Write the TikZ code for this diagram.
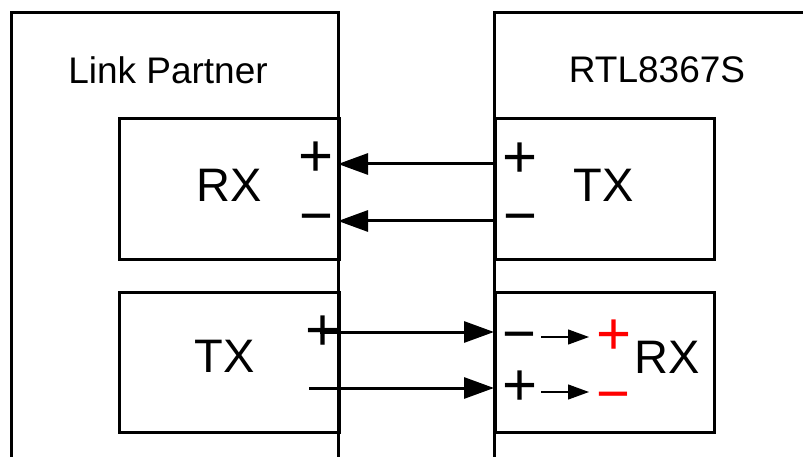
\documentclass[tikz,border=0pt]{standalone}
\usepackage{fontspec}
\setmainfont{Liberation Sans}
\usetikzlibrary{arrows.meta}
\begin{document}
\begin{tikzpicture}[x=1pt,y=-1pt,
  frame/.style={line width=3pt},
  box/.style={draw,line width=3pt,inner sep=0pt,anchor=north west},
  title/.style={font=\fontsize{37}{40}\selectfont,inner sep=0pt},
  big/.style={font=\fontsize{47}{50}\selectfont,inner sep=0pt},
  psg/.style={font=\fontsize{60}{62}\selectfont,inner sep=0pt,anchor=base},
  msg/.style={font=\fontsize{58}{60}\selectfont,inner sep=0pt,anchor=base},
  wire/.style={line width=3pt,-{Triangle[length=30pt,width=21pt]}},
  swire/.style={line width=1.3pt,-{Triangle[length=21pt,width=15pt]}}]
\useasboundingbox (0,0) rectangle (803,457);
% outer frames (open at the bottom / right)
\draw[frame] (11,457) -- (11,13) -- (338,13) -- (338,457);
\draw[frame] (494,457) -- (494,13) -- (803,13);
\node[title] (lp) at (168,70) {Link Partner};
\node[title] (rtl) at (657,70) {RTL8367S};
% inner boxes
\node[box,minimum width=220pt,minimum height=141pt] (rxLbox) at (118,117) {};
\node[box,minimum width=220pt,minimum height=140pt] (txLbox) at (118,291) {};
\node[box,minimum width=219pt,minimum height=141pt] (txRbox) at (494,117) {};
\node[box,minimum width=219pt,minimum height=140pt] (rxRbox) at (494,291) {};
\node[big] (rxL) at (229,185) {RX};
\node[big] (txL) at (225,356) {TX};
\node[big] (txR) at (604,185) {TX};
\node[big] (rxR) at (667,357) {RX};
% signs (baseline = visual centre + about 0.34em)
\node[psg] (pL1) at (316,177) {+};
\node[msg] (mL1) at (316,236) {−};
\node[psg] (pR1) at (520,178) {+};
\node[msg] (mR1) at (520,236) {−};
\node[psg] (pL2) at (323,350) {+};
\node[msg] (mR2) at (519,353) {−};
\node[psg] (pR2) at (520,405) {+};
\node[psg,text=red] (pRed) at (614,354) {+};
\node[msg,text=red] (mRed) at (613,413) {−};
% connectors
\coordinate (t1s) at (494,164); \coordinate (t1e) at (338,164);
\coordinate (t2s) at (494,221); \coordinate (t2e) at (338,221);
\coordinate (b1s) at (320,332); \coordinate (b1e) at (494,332);
\coordinate (b2s) at (309,388); \coordinate (b2e) at (494,388);
\draw[wire] (t1s) -- (t1e);
\draw[wire] (t2s) -- (t2e);
\draw[wire] (b1s) -- (b1e);
\draw[wire] (b2s) -- (b2e);
\coordinate (s1s) at (541,337); \coordinate (s1e) at (589,337);
\coordinate (s2s) at (541,392); \coordinate (s2e) at (589,392);
\draw[swire] (s1s) -- (s1e);
\draw[swire] (s2s) -- (s2e);
\end{tikzpicture}
\end{document}
